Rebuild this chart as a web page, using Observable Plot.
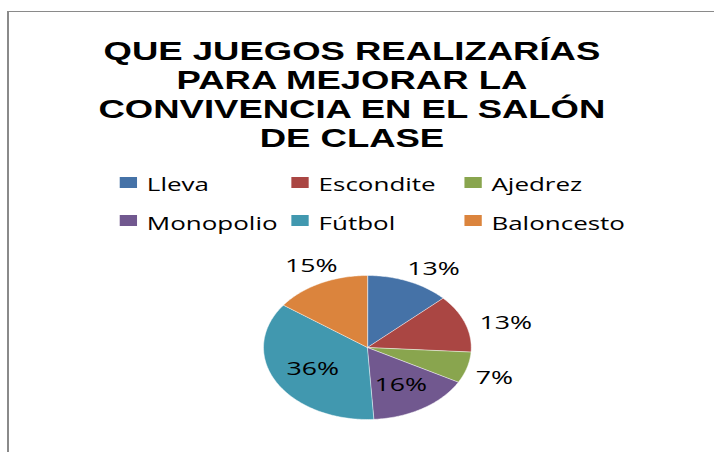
<!DOCTYPE html>
<html>
<head>
<meta charset="utf-8">
<script src="https://cdn.jsdelivr.net/npm/d3@7"></script>
<script src="https://cdn.jsdelivr.net/npm/@observablehq/plot@0.6"></script>
<style>
  html, body { margin: 0; padding: 0; background: #fff; }
  body { width: 714px; height: 452px; position: relative; overflow: hidden; }
  #frame { position: absolute; left: 7px; top: 11px; width: 800px; height: 600px;
           border-left: 2px solid #8a8a8a; border-top: 1px solid #8a8a8a; }
  #stretch { position: absolute; left: 0; top: 0; width: 495px; height: 452px;
             transform: scaleX(1.4424); transform-origin: 0 0; }
  #title { position: absolute; left: 0; top: 36.5px; width: 488px; text-align: center;
           font-family: "Liberation Sans", Arial, sans-serif; font-weight: bold;
           font-size: 25.3px; line-height: 29.3px; color: #000; }
  .sw { position: absolute; width: 11.8px; height: 11px; }
  .lt { position: absolute; font-family: "Open Sans", sans-serif; font-size: 18px;
        line-height: 18px; color: #000; white-space: nowrap; }
  #plot { position: absolute; left: 0; top: 240px; }
</style>
</head>
<body>
<div id="frame"></div>
<div id="stretch">
  <div id="title"></div>
  <div id="legend"></div>
  <div id="plot"></div>
</div>
<script>
const titleLines = ["QUE JUEGOS REALIZARÍAS", "PARA MEJORAR LA", "CONVIVENCIA EN EL SALÓN", "DE CLASE"];
const categories = ["Lleva", "Escondite", "Ajedrez", "Monopolio", "Fútbol", "Baloncesto"];
const values = [13, 13, 7, 16, 36, 15];
const colors = ["#4572A7", "#AA4643", "#89A54E", "#71588F", "#4198AF", "#DB843D"];

document.getElementById("title").innerHTML = titleLines.join("<br>");

// pie geometry from data (unit circle, starting at 12 o'clock, clockwise)
const total = d3.sum(values);
let acc = 0;
const slices = categories.map((c, i) => {
  const a0 = acc / total * 2 * Math.PI;
  acc += values[i];
  const a1 = acc / total * 2 * Math.PI;
  return {cat: c, value: values[i], a0, a1, mid: (a0 + a1) / 2};
});
const pts = [];
for (const s of slices) {
  pts.push({cat: s.cat, x: 0, y: 0});
  const n = Math.max(2, Math.ceil((s.a1 - s.a0) / (Math.PI / 180)));
  for (let k = 0; k <= n; k++) {
    const a = s.a0 + (s.a1 - s.a0) * k / n;
    pts.push({cat: s.cat, x: Math.sin(a), y: Math.cos(a)});
  }
}
const R = 72; // pixel radius (unstretched)
const labels = slices.map(s => {
  const text = Math.round(s.value / total * 100) + "%";
  if (s.value >= 16) {
    const sx = Math.sin(s.mid), sy = Math.cos(s.mid);
    return {text, x: sx * 0.6, y: sy * 0.62};
  }
  const a = s.mid + 4 * Math.PI / 180; // best-fit style offset
  const sx = Math.sin(a), sy = Math.cos(a);
  const hw = text.length * 5.9, hh = 6.5, g = 10;
  return {text, x: sx + (sx * g + hw * Math.abs(sx) * Math.sign(sx)) / R,
                y: sy + (sy * g + hh * sy) / R};
});

const cx = 254.2, cyTop = 107; // center inside plot svg
const plot = Plot.plot({
  width: 495,
  height: 212,
  margin: 0,
  x: {domain: [-1, 1], range: [cx - R, cx + R], axis: null},
  y: {domain: [-1, 1], range: [cyTop + R, cyTop - R], axis: null},
  color: {domain: categories, range: colors},
  style: {fontFamily: "'Open Sans', sans-serif", fontSize: "18.5px", background: "transparent", overflow: "visible"},
  marks: [
    Plot.line(pts, {x: "x", y: "y", z: "cat", fill: "cat", stroke: "white", strokeWidth: 0.4, curve: "linear-closed"}),
    Plot.text(labels, {x: "x", y: "y", text: "text", fontSize: 18.5, fontFamily: "Open Sans", fill: "#000"})
  ]
});
document.getElementById("plot").appendChild(plot);

// legend (HTML) using the plot's color scale
const color = plot.scale("color");
const colX = [83.1, 202.2, 322.0];
const rowY = [176.7, 215.2];
const legend = document.getElementById("legend");
categories.forEach((c, i) => {
  const col = i % 3, row = Math.floor(i / 3);
  const sw = document.createElement("div");
  sw.className = "sw";
  sw.style.left = colX[col] + "px";
  sw.style.top = rowY[row] + "px";
  sw.style.background = color.apply(c);
  legend.appendChild(sw);
  const t = document.createElement("div");
  t.className = "lt";
  t.style.left = (colX[col] + 18.7) + "px";
  t.style.top = (rowY[row] - 1.7) + "px";
  t.textContent = c;
  legend.appendChild(t);
});
</script>
</body>
</html>
